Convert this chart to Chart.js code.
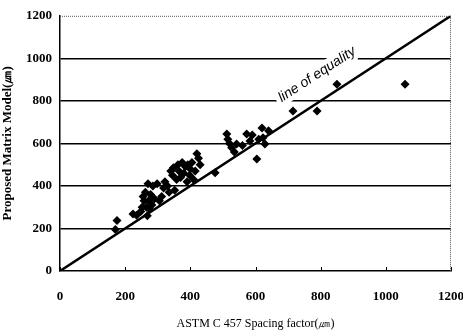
<!DOCTYPE html>
<html>
<head>
<meta charset="utf-8">
<script src="https://cdn.jsdelivr.net/npm/chart.js@4"></script>
<style>
  html, body { margin: 0; padding: 0; background: #fff; }
  #wrap { width: 463px; height: 333px; }
</style>
</head>
<body>
<div id="wrap"><canvas id="chart" width="463" height="333"></canvas></div>
<script>
// ASTM C 457 spacing factor (x) vs proposed matrix model (y), both in um
const astmValues = [170, 175, 224, 235, 248, 252, 255, 258, 262, 265, 268, 270, 272, 275, 278, 282, 285, 290, 298, 305,
  312, 318, 322, 330, 335, 340, 345, 348, 352, 358, 362, 365, 370, 375, 380, 385, 390, 392, 398, 400,
  405, 410, 415, 420, 425, 430, 476, 512, 515, 520, 527, 535, 542, 560, 573, 583, 590, 604, 610, 620,
  623, 629, 640, 715, 789, 850, 1059];
const modelValues = [195, 238, 268, 262, 280, 300, 350, 330, 370, 300, 260, 410, 330, 290, 360, 310, 400, 340, 410, 330,
  350, 390, 420, 400, 370, 470, 450, 486, 380, 430, 500, 470, 440, 510, 460, 490, 420, 500, 450, 480,
  510, 430, 470, 551, 530, 500, 462, 644, 620, 600, 579, 560, 597, 590, 644, 611, 640, 527, 620, 672,
  626, 597, 660, 752, 752, 878, 878];
const equalityLine = [0, 1200];
const tickValues = [0, 200, 400, 600, 800, 1000, 1200];

const points = astmValues.map((x, i) => ({ x: x, y: modelValues[i] }));

// frame bits the library does not draw: dotted top/right border, small x ticks
const framePlugin = {
  id: 'frame',
  afterDraw(chart) {
    const { ctx, chartArea: a, scales } = chart;
    ctx.save();
    ctx.strokeStyle = '#555';
    ctx.lineWidth = 1;
    ctx.setLineDash([1, 1]);
    ctx.beginPath();
    ctx.moveTo(a.left, a.top + 0.5);
    ctx.lineTo(a.right, a.top + 0.5);
    ctx.moveTo(a.right - 0.5, a.top);
    ctx.lineTo(a.right - 0.5, a.bottom);
    ctx.stroke();
    ctx.setLineDash([]);
    ctx.strokeStyle = '#000';
    ctx.beginPath();
    tickValues.forEach(v => {
      const px = Math.round(scales.x.getPixelForValue(v)) + 0.5;
      ctx.moveTo(px, a.bottom);
      ctx.lineTo(px, a.bottom - 4);
    });
    ctx.stroke();
    ctx.restore();
  }
};

// rotated label along the equality line, with a white halo that breaks the grid lines
const labelPlugin = {
  id: 'equalityLabel',
  beforeDatasetsDraw(chart) {
    const { ctx, scales } = chart;
    const px = scales.x.getPixelForValue(789);
    const py = scales.y.getPixelForValue(924);
    const ang = Math.atan2(scales.y.getPixelForValue(1200) - scales.y.getPixelForValue(0),
      scales.x.getPixelForValue(1200) - scales.x.getPixelForValue(0));
    ctx.save();
    ctx.translate(px, py);
    ctx.rotate(ang);
    ctx.font = 'italic 14px "Liberation Sans", Arial, sans-serif';
    ctx.textAlign = 'center';
    ctx.textBaseline = 'middle';
    ctx.lineWidth = 9;
    ctx.strokeStyle = '#fff';
    ctx.strokeText('line of equality', 0, 0);
    ctx.fillStyle = '#000';
    ctx.fillText('line of equality', 0, 0);
    ctx.restore();
  }
};

const tickFont = { family: '"Liberation Serif", serif', size: 13, weight: 'bold' };

new Chart(document.getElementById('chart'), {
  type: 'scatter',
  data: {
    datasets: [
      {
        label: 'line of equality',
        data: equalityLine.map(v => ({ x: v, y: v })),
        showLine: true,
        borderColor: '#000',
        borderWidth: 2.5,
        pointRadius: 0,
        order: 2
      },
      {
        label: 'data',
        data: points,
        pointStyle: 'rectRot',
        pointRadius: 4.5,
        backgroundColor: '#000',
        borderColor: '#000',
        borderWidth: 0,
        order: 1
      }
    ]
  },
  options: {
    responsive: false,
    animation: false,
    layout: { padding: { top: 8, right: 0, left: 0, bottom: 0 } },
    plugins: {
      legend: { display: false },
      tooltip: { enabled: false }
    },
    scales: {
      x: {
        type: 'linear',
        min: 0,
        max: 1200,
        afterBuildTicks: s => { s.ticks = tickValues.map(v => ({ value: v })); },
        afterFit: s => { s.height = 62; s.paddingRight = 12; },
        grid: { display: false },
        border: { display: true, color: '#000', width: 1.5 },
        ticks: {
          color: '#000',
          padding: 10,
          maxRotation: 0,
          callback: v => String(v),
          font: tickFont
        },
        title: {
          display: true,
          text: 'ASTM C 457 Spacing factor(㎛)',
          color: '#000',
          padding: { top: 0, bottom: 2 },
          font: { family: '"Liberation Serif", serif', size: 12 }
        }
      },
      y: {
        type: 'linear',
        min: 0,
        max: 1200,
        afterBuildTicks: s => { s.ticks = tickValues.map(v => ({ value: v })); },
        afterFit: s => { s.width = 60; },
        grid: {
          color: ctx => (ctx.tick && (ctx.tick.value === 0 || ctx.tick.value === 1200)) ? 'rgba(0,0,0,0)' : '#000',
          lineWidth: 1.5,
          drawTicks: false
        },
        border: { display: true, color: '#000', width: 1.5 },
        ticks: {
          color: '#000',
          padding: 8,
          callback: v => String(v),
          font: tickFont
        },
        title: {
          display: true,
          text: 'Proposed Matrix Model(㎛)',
          color: '#000',
          padding: { top: 0, bottom: 2 },
          font: { family: '"Liberation Serif", serif', size: 13, weight: 'bold' }
        }
      }
    }
  },
  plugins: [framePlugin, labelPlugin]
});
</script>
</body>
</html>
